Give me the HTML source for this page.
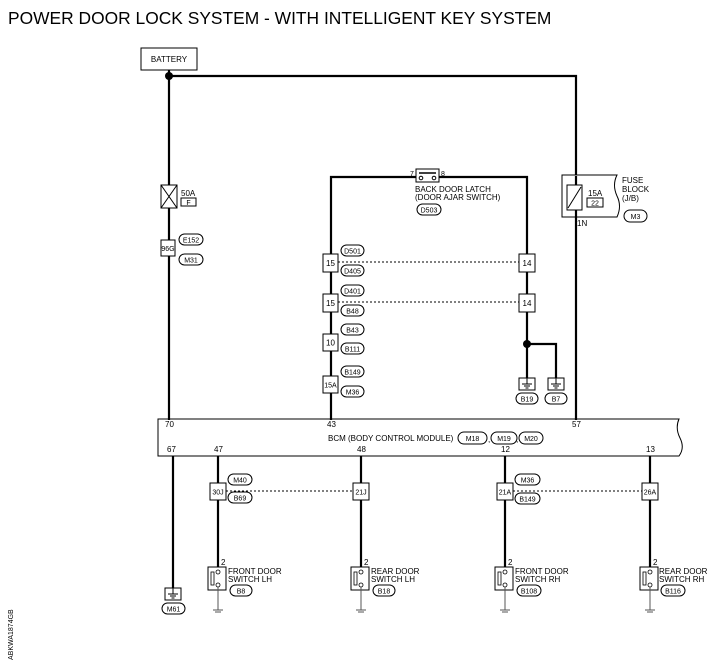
<!DOCTYPE html>
<html><head><style>
body{margin:0;background:#fff}
svg{display:block;font-family:"Liberation Sans",Arial,sans-serif}
text{fill:#000}
.t{font-size:8px}
.s{font-size:7px}
</style></head><body>
<svg width="717" height="666" viewBox="0 0 717 666" xmlns="http://www.w3.org/2000/svg">
<defs>
<g id="sw">
<rect x="-10" y="0" width="18" height="23" fill="#fff" stroke="#000" stroke-width="1"/>
<rect x="-7" y="5" width="3" height="13" fill="#fff" stroke="#000" stroke-width="0.8"/>
<circle cx="0" cy="5" r="2" fill="#fff" stroke="#000" stroke-width="0.8"/>
<circle cx="0" cy="18" r="2" fill="#fff" stroke="#000" stroke-width="0.8"/>
<line x1="0" y1="20" x2="0" y2="43" stroke="#555" stroke-width="1"/>
<line x1="-5" y1="43" x2="5" y2="43" stroke="#555" stroke-width="1"/>
<line x1="-3" y1="45" x2="3" y2="45" stroke="#555" stroke-width="1"/>
</g>
<g id="gnd">
<rect x="-8" y="0" width="16" height="12" fill="#fff" stroke="#000" stroke-width="1"/>
<line x1="0" y1="0" x2="0" y2="6" stroke="#000"/>
<line x1="-5" y1="6" x2="5" y2="6" stroke="#000"/>
<line x1="-3" y1="8" x2="3" y2="8" stroke="#000"/>
<line x1="-1.5" y1="10" x2="1.5" y2="10" stroke="#000"/>
</g>
</defs>
<text x="8" y="24" font-size="17.4">POWER DOOR LOCK SYSTEM - WITH INTELLIGENT KEY SYSTEM</text>
<text transform="translate(13,660) rotate(-90)" class="s">ABKWA1874GB</text>

<!-- BCM -->
<path d="M158,419 L679,419 Q675,428 680,438 Q685,448 679,456 L158,456 Z" fill="#fff" stroke="#000"/>

<g fill="none" stroke="#000" stroke-width="2.2">
<polyline points="169,70 169,420"/>
<polyline points="169,76 576,76 576,176"/>
<line x1="576" y1="217" x2="576" y2="420"/>
<polyline points="331,420 331,177 416,177"/>
<polyline points="439,177 527,177 527,378"/>
<polyline points="527,344 556,344 556,378"/>
<line x1="173" y1="456" x2="173" y2="588"/>
<line x1="218" y1="456" x2="218" y2="567"/>
<line x1="361" y1="456" x2="361" y2="567"/>
<line x1="505" y1="456" x2="505" y2="567"/>
<line x1="650" y1="456" x2="650" y2="567"/>
</g>
<circle cx="169" cy="76" r="4"/>
<circle cx="527" cy="344" r="4"/>

<g fill="none" stroke="#000" stroke-width="1" stroke-dasharray="2,2">
<line x1="338" y1="262" x2="519" y2="262"/>
<line x1="338" y1="302" x2="519" y2="302"/>
<line x1="226" y1="491" x2="353" y2="491"/>
<line x1="513" y1="491" x2="642" y2="491"/>
</g>

<!-- battery -->
<rect x="141" y="48" width="56" height="22" fill="#fff" stroke="#000"/>
<text x="169" y="62" class="t" text-anchor="middle">BATTERY</text>

<!-- 50A fuse -->
<g stroke="#000" fill="#fff">
<rect x="161" y="185" width="16" height="23"/>
<line x1="161" y1="185" x2="177" y2="208"/><line x1="177" y1="185" x2="161" y2="208"/>
<rect x="181" y="198" width="15" height="8"/>
</g>
<text x="181" y="196" class="t">50A</text><text x="188.5" y="205" class="s" text-anchor="middle">F</text>

<g stroke="#000" fill="#fff" stroke-width="1">
<rect x="161" y="240" width="14" height="16"/>
<rect x="323" y="254" width="15" height="18"/>
<rect x="323" y="294" width="15" height="18"/>
<rect x="323" y="334" width="15" height="17"/>
<rect x="323" y="376" width="15" height="17"/>
<rect x="519" y="254" width="16" height="18"/>
<rect x="519" y="294" width="16" height="18"/>
<rect x="210" y="483" width="16" height="17"/>
<rect x="353" y="483" width="16" height="17"/>
<rect x="497" y="483" width="16" height="17"/>
<rect x="642" y="483" width="16" height="17"/>
<rect x="179" y="234" width="24" height="11" rx="5.5"/>
<rect x="179" y="254" width="24" height="11" rx="5.5"/>
<rect x="341" y="245" width="23" height="11" rx="5.5"/>
<rect x="341" y="265" width="23" height="11" rx="5.5"/>
<rect x="341" y="285" width="23" height="11" rx="5.5"/>
<rect x="341" y="305" width="23" height="11" rx="5.5"/>
<rect x="341" y="324" width="23" height="11" rx="5.5"/>
<rect x="341" y="343" width="23" height="11" rx="5.5"/>
<rect x="341" y="366" width="23" height="11" rx="5.5"/>
<rect x="341" y="386" width="23" height="11" rx="5.5"/>
<rect x="417" y="204" width="24" height="11" rx="5.5"/>
<rect x="516" y="393" width="22" height="11" rx="5.5"/>
<rect x="545" y="393" width="22" height="11" rx="5.5"/>
<rect x="624" y="210" width="23" height="12" rx="6"/>
<rect x="458" y="432" width="29" height="12" rx="6"/>
<rect x="491" y="432" width="26" height="12" rx="6"/>
<rect x="519" y="432" width="24" height="12" rx="6"/>
<rect x="228" y="474" width="24" height="11" rx="5.5"/>
<rect x="228" y="492" width="24" height="11" rx="5.5"/>
<rect x="515" y="474" width="25" height="11" rx="5.5"/>
<rect x="515" y="493" width="25" height="11" rx="5.5"/>
<rect x="162" y="603" width="23" height="11" rx="5.5"/>
<rect x="230" y="585" width="22" height="11" rx="5.5"/>
<rect x="373" y="585" width="22" height="11" rx="5.5"/>
<rect x="517" y="585" width="24" height="11" rx="5.5"/>
<rect x="661" y="585" width="24" height="11" rx="5.5"/>
</g>
<g class="s" text-anchor="middle">
<text x="168" y="251">96G</text>
<text x="191" y="242.5">E152</text><text x="191" y="262.5">M31</text>
<text x="330.5" y="266" font-size="8">15</text><text x="330.5" y="306" font-size="8">15</text>
<text x="330.5" y="345.5" font-size="8">10</text><text x="330.5" y="387.5">15A</text>
<text x="527" y="266" font-size="8">14</text><text x="527" y="306" font-size="8">14</text>
<text x="352.5" y="253.5">D501</text><text x="352.5" y="273.5">D405</text>
<text x="352.5" y="293.5">D401</text><text x="352.5" y="313.5">B48</text>
<text x="352.5" y="332.5">B43</text><text x="352.5" y="351.5">B111</text>
<text x="352.5" y="374.5">B149</text><text x="352.5" y="394.5">M36</text>
<text x="429" y="212.5">D503</text>
<text x="527" y="401.5">B19</text><text x="556" y="401.5">B7</text>
<text x="635.5" y="219">M3</text>
<text x="472.5" y="441">M18</text><text x="504" y="441">M19</text><text x="531" y="441">M20</text>
<text x="218" y="494.5">30J</text><text x="361" y="494.5">21J</text>
<text x="505" y="494.5">21A</text><text x="650" y="494.5">26A</text>
<text x="240" y="482.5">M40</text><text x="240" y="500.5">B69</text>
<text x="527.5" y="482.5">M36</text><text x="527.5" y="501.5">B149</text>
<text x="173.5" y="611.5">M61</text>
<text x="241" y="593.5">B8</text><text x="384" y="593.5">B18</text>
<text x="529" y="593.5">B108</text><text x="673" y="593.5">B116</text>
</g>

<!-- back door latch -->
<rect x="416" y="169" width="23" height="13" fill="#fff" stroke="#000"/>
<line x1="419" y1="173" x2="436" y2="173" stroke="#000" stroke-width="1.5"/>
<circle cx="421" cy="178" r="1.8" fill="#fff" stroke="#000"/><circle cx="434" cy="178" r="1.8" fill="#fff" stroke="#000"/>
<text x="410" y="176" class="s">7</text><text x="441" y="176" class="s">8</text>
<text x="415" y="192" class="t">BACK DOOR LATCH</text>
<text x="415" y="200" class="t">(DOOR AJAR SWITCH)</text>

<!-- grounds -->
<use href="#gnd" x="527" y="378"/><use href="#gnd" x="556" y="378"/>
<use href="#gnd" x="173" y="588"/>

<!-- fuse block -->
<path d="M562,175 L617,175 Q612,185 617,196 Q622,206 617,217 L562,217 Z" fill="#fff" stroke="#000"/>
<rect x="567" y="185" width="15" height="25" fill="#fff" stroke="#000"/>
<line x1="568" y1="208" x2="581" y2="187" stroke="#000"/>
<line x1="576" y1="176" x2="576" y2="185" stroke="#000" stroke-width="2.2"/>
<line x1="576" y1="210" x2="576" y2="217" stroke="#000" stroke-width="2.2"/>
<rect x="587" y="198" width="16" height="9" fill="#fff" stroke="#000"/>
<text x="588" y="196" class="t">15A</text><text x="595" y="205.5" class="s" text-anchor="middle">22</text>
<text x="622" y="183" class="t">FUSE</text><text x="622" y="192" class="t">BLOCK</text><text x="622" y="201" class="t">(J/B)</text>
<text x="577" y="226" class="t">1N</text>

<g class="t">
<text x="165" y="427">70</text><text x="327" y="427">43</text><text x="572" y="427">57</text>
<text x="328" y="441">BCM (BODY CONTROL MODULE)</text>
<text x="488" y="442">,</text><text x="516" y="442">,</text>
<text x="167" y="452">67</text><text x="214" y="452">47</text><text x="357" y="452">48</text>
<text x="501" y="452">12</text><text x="646" y="452">13</text>
</g>

<!-- switches -->
<use href="#sw" x="218" y="567"/><use href="#sw" x="361" y="567"/>
<use href="#sw" x="505" y="567"/><use href="#sw" x="650" y="567"/>
<g class="t">
<text x="221" y="565">2</text><text x="364" y="565">2</text><text x="508" y="565">2</text><text x="653" y="565">2</text>
<text x="228" y="574">FRONT DOOR</text><text x="228" y="582">SWITCH LH</text>
<text x="371" y="574">REAR DOOR</text><text x="371" y="582">SWITCH LH</text>
<text x="515" y="574">FRONT DOOR</text><text x="515" y="582">SWITCH RH</text>
<text x="659" y="574">REAR DOOR</text><text x="659" y="582">SWITCH RH</text>
</g>
</svg>
</body></html>
